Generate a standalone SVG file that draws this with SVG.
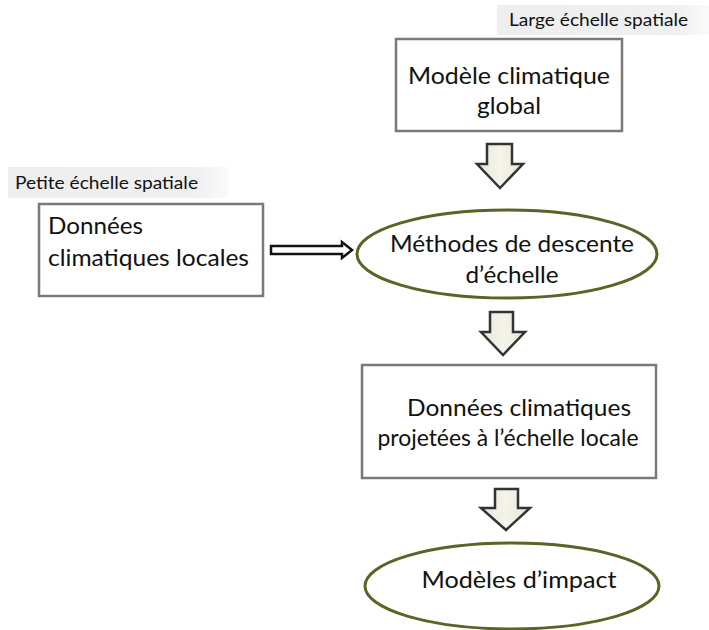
<svg xmlns="http://www.w3.org/2000/svg" width="709" height="630" viewBox="0 0 709 630">
<defs>
<linearGradient id="lbl" x1="0" y1="0" x2="1" y2="0">
<stop offset="0" stop-color="#eeeeee"/><stop offset="0.85" stop-color="#f0f0f0"/><stop offset="1" stop-color="#fafafa"/>
</linearGradient>
<linearGradient id="arr" x1="0" y1="0" x2="1" y2="0">
<stop offset="0" stop-color="#e6e6d6"/><stop offset="0.5" stop-color="#f4f4ea"/><stop offset="1" stop-color="#e6e6d6"/>
</linearGradient>
<style>
.box{fill:#ffffff;stroke:#7a7a7a;stroke-width:2.5}
.ell{fill:#ffffff;stroke:#5b6426;stroke-width:3}
.blk{fill:url(#arr);stroke:#333333;stroke-width:2.5;stroke-linejoin:miter}
.t{font-family:Lato,"Open Sans","Liberation Sans",sans-serif;font-size:23px;fill:#111111}
.s{font-family:Lato,"Open Sans","Liberation Sans",sans-serif;font-size:17px;fill:#111111}
.c{text-anchor:middle}
</style>
</defs>
<rect width="709" height="630" fill="#ffffff"/>

<g id="label-large">
<rect x="497" y="5" width="212" height="30" fill="url(#lbl)"/>
<text class="s" x="509" y="26" textLength="179" lengthAdjust="spacingAndGlyphs">Large échelle spatiale</text>
</g>

<g id="label-petite">
<rect x="8" y="167" width="220" height="31" fill="url(#lbl)"/>
<text class="s" x="15" y="189" textLength="183" lengthAdjust="spacingAndGlyphs">Petite échelle spatiale</text>
</g>

<g id="modele-global">
<rect class="box" x="396" y="39" width="226" height="92"/>
<text class="t c" x="509" y="84" textLength="202" lengthAdjust="spacingAndGlyphs">Modèle climatique</text>
<text class="t c" x="509" y="114" textLength="64" lengthAdjust="spacingAndGlyphs">global</text>
</g>

<g id="donnees-locales">
<rect class="box" x="39" y="204" width="224" height="92"/>
<text class="t" x="48" y="234" textLength="95" lengthAdjust="spacingAndGlyphs">Données</text>
<text class="t" x="48" y="266" textLength="201" lengthAdjust="spacingAndGlyphs">climatiques locales</text>
</g>

<g id="methodes">
<ellipse class="ell" cx="507" cy="254" rx="150" ry="44"/>
<text class="t c" x="512" y="252" textLength="244" lengthAdjust="spacingAndGlyphs">Méthodes de descente</text>
<text class="t c" x="512" y="283" textLength="93" lengthAdjust="spacingAndGlyphs">d’échelle</text>
</g>

<g id="donnees-projetees">
<rect class="box" x="362" y="365" width="294" height="113"/>
<text class="t c" x="519" y="416" textLength="224" lengthAdjust="spacingAndGlyphs">Données climatiques</text>
<text class="t c" x="508" y="446" textLength="261" lengthAdjust="spacingAndGlyphs">projetées à l’échelle locale</text>
</g>

<g id="modeles-impact">
<ellipse class="ell" cx="512" cy="586" rx="147" ry="43"/>
<text class="t c" x="519" y="588" textLength="195" lengthAdjust="spacingAndGlyphs">Modèles d’impact</text>
</g>

<g id="connectors">
<polygon class="blk" points="487,144 512,144 512,164 523,164 500,188 477,164 487,164"/>
<polygon class="blk" points="490,312 513,312 513,332 525,332 503,355 481,332 490,332"/>
<polygon class="blk" points="495,489 518,489 518,508 530,508 506,530 481,508 495,508"/>
<polygon points="271,246 342,246 342,242 352,250 342,258 342,254 271,254" fill="#ffffff" stroke="#111111" stroke-width="2.5" stroke-linejoin="miter"/>
</g>
</svg>
